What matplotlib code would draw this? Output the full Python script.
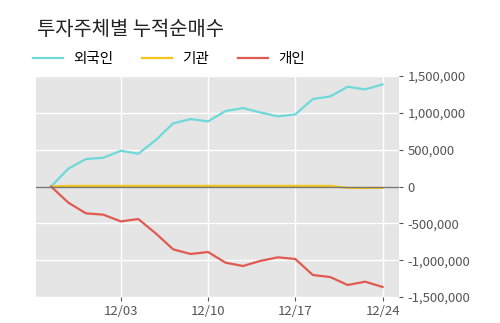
import matplotlib
matplotlib.use("Agg")
import matplotlib.pyplot as plt
from matplotlib.ticker import FuncFormatter

plt.rcParams["font.family"] = ["Noto Sans CJK KR", "DejaVu Sans"]

# 거래일 (11/27 ~ 12/24)
dates = ["11/27", "11/28", "11/29", "12/02", "12/03", "12/04", "12/05", "12/06",
         "12/09", "12/10", "12/11", "12/12", "12/13", "12/16", "12/17", "12/18",
         "12/19", "12/20", "12/23", "12/24"]

# 투자주체별 누적순매수 (주)
foreign = [0, 244000, 373000, 391000, 486000, 445000, 631000, 858000, 916000, 885000,
           1025000, 1066000, 1005000, 953000, 980000, 1188000, 1224000, 1355000,
           1319000, 1387000]
institution = [0, 8000, 8000, 8000, 8000, 8000, 8000, 8000, 8000, 8000,
               8000, 8000, 8000, 8000, 8000, 8000, 8000, -18000, -20000, -18000]
individual = [0, -220000, -364000, -382000, -473000, -441000, -636000, -853000, -916000,
              -889000, -1034000, -1079000, -1010000, -961000, -984000, -1201000,
              -1229000, -1337000, -1292000, -1364000]

tick_labels = ["12/03", "12/10", "12/17", "12/24"]
y_ticks = [-1500000, -1000000, -500000, 0, 500000, 1000000, 1500000]

fig = plt.figure(figsize=(5, 3.23), dpi=100)
ax = fig.add_axes([0.072, 0.0805, 0.726, 0.684])
ax.set_facecolor("#e5e5e5")

x = list(range(len(dates)))
ax.plot(x, foreign, color="#6fd9d9", linewidth=1.6, label="외국인", zorder=3)
ax.plot(x, institution, color="#f5c51c", linewidth=1.6, label="기관", zorder=3)
ax.plot(x, individual, color="#e05a52", linewidth=1.6, label="개인", zorder=3)
ax.axhline(0, color="#777777", linewidth=1.0, zorder=4)

ax.set_xlim(-0.86, 19.94)
ax.set_ylim(-1500000, 1500000)
ax.set_xticks([dates.index(t) for t in tick_labels])
ax.set_xticklabels(tick_labels)
ax.set_yticks(y_ticks)
ax.yaxis.set_major_formatter(FuncFormatter(lambda v, p: f"{int(v):,}"))
ax.yaxis.tick_right()

ax.grid(True, color="white", linewidth=1.0)
ax.set_axisbelow(True)
for s in ax.spines.values():
    s.set_visible(False)
ax.tick_params(axis="both", colors="#555555", labelsize=9.5, length=3, width=0.8)
ax.tick_params(axis="y", pad=3)
ax.tick_params(axis="x", pad=3)

fig.text(0.074, 0.91, "투자주체별 누적순매수", fontsize=14.3, color="#222222",
         va="center", ha="left")
fig.legend(loc="center left", bbox_to_anchor=(0.066, 0.817), ncol=3, frameon=False,
           fontsize=10.5, handlelength=2.05, columnspacing=2.0, handletextpad=0.7,
           borderpad=0, borderaxespad=0)

fig.savefig("out.png", dpi=100)
